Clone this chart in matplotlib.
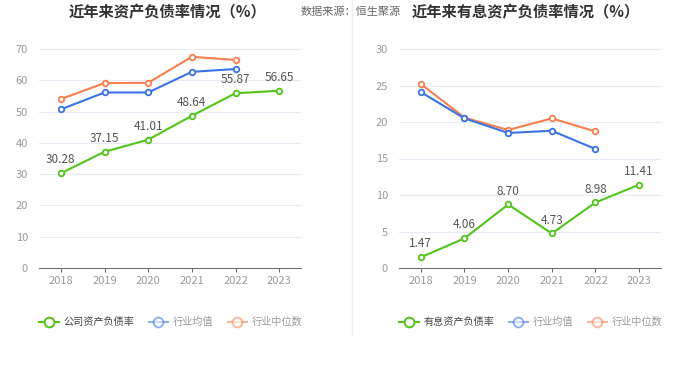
import matplotlib
matplotlib.use("Agg")
import matplotlib.pyplot as plt
from matplotlib.lines import Line2D

plt.rcParams['font.family'] = ['Noto Sans CJK SC', 'DejaVu Sans']

years = ['2018', '2019', '2020', '2021', '2022', '2023']

# Left chart: asset-liability ratio
company_ratio = [30.28, 37.15, 41.01, 48.64, 55.87, 56.65]
industry_avg = [50.7, 56.1, 56.1, 62.7, 63.6]
industry_median = [54.0, 59.1, 59.2, 67.5, 66.5]

# Right chart: interest-bearing asset-liability ratio
company_int = [1.47, 4.06, 8.70, 4.73, 8.98, 11.41]
industry_int_avg = [24.1, 20.5, 18.5, 18.8, 16.3]
industry_int_median = [25.2, 20.6, 18.9, 20.5, 18.7]

GREEN = '#52c41a'
BLUE = '#3b73e6'
ORANGE = '#fa7f4f'
GRID = '#e6ebf5'
AXIS = '#6e7079'
TICK = '#999999'

fig = plt.figure(figsize=(7, 3.79), dpi=100)

def draw(ax, comp, avg, med, ymax, ystep):
    x = range(len(years))
    ax.set_xlim(-0.5, len(years) - 0.5)
    ax.set_ylim(0, ymax)
    ax.set_yticks(range(0, ymax + 1, ystep))
    ax.set_xticks(list(x))
    ax.set_xticklabels(years)
    for s in ['top', 'right', 'left']:
        ax.spines[s].set_visible(False)
    ax.spines['bottom'].set_color(AXIS)
    ax.spines['bottom'].set_linewidth(0.8)
    ax.grid(axis='y', color=GRID, linewidth=0.8)
    ax.set_axisbelow(True)
    ax.tick_params(axis='y', length=0, labelsize=8, colors=TICK, pad=8)
    ax.tick_params(axis='x', length=3, color=AXIS, labelsize=8, labelcolor=TICK, pad=3)
    mk = dict(marker='o', markersize=4, markerfacecolor='white', markeredgewidth=1.3, linewidth=1.5)
    ax.plot(range(len(med)), med, color=ORANGE, **mk, zorder=3)
    ax.plot(range(len(avg)), avg, color=BLUE, **mk, zorder=4)
    ax.plot(range(len(comp)), comp, color=GREEN, **mk, zorder=5)
    for i, v in enumerate(comp):
        ax.annotate(f'{v:.2f}', (i, v), xytext=(0, 5), textcoords='offset points',
                    ha='center', va='bottom', fontsize=8.5, color='#555555')

ax1 = fig.add_axes([39 / 700, 111 / 379, 262 / 700, 219 / 379])
draw(ax1, company_ratio, industry_avg, industry_median, 70, 10)
ax2 = fig.add_axes([399 / 700, 111 / 379, 262 / 700, 219 / 379])
draw(ax2, company_int, industry_int_avg, industry_int_median, 30, 5)

fig.text(167 / 700, 1 - 12 / 379, '近年来资产负债率情况（%）', ha='center', va='center',
         fontsize=11, fontweight='bold', color='#333333')
fig.text(526 / 700, 1 - 12 / 379, '近年来有息资产负债率情况（%）', ha='center', va='center',
         fontsize=11, fontweight='bold', color='#333333')
fig.text(351 / 700, 1 - 12 / 379, '数据来源：恒生聚源', ha='center', va='center',
         fontsize=8, color='#666666')

fig.add_artist(Line2D([351.5 / 700, 351.5 / 700], [1 - 335 / 379, 1.0], color='#eeeeee',
                      linewidth=1, transform=fig.transFigure))

def legend(labels, cx):
    hs = []
    for c, a in [(GREEN, 1.0), (BLUE, 0.55), (ORANGE, 0.55)]:
        hs.append(Line2D([], [], color=c, alpha=a, marker='o', markersize=7,
                         markerfacecolor='white', markeredgewidth=1.4, linewidth=1.5))
    lg = fig.legend(hs, labels, loc='center', bbox_to_anchor=(cx / 700, 1 - 322 / 379),
                    ncol=3, frameon=False, fontsize=7.3, handlelength=1.9, handletextpad=0.5,
                    columnspacing=1.4, borderpad=0, borderaxespad=0)
    for t, col in zip(lg.get_texts(), ['#444444', '#999999', '#999999']):
        t.set_color(col)

legend(['公司资产负债率', '行业均值', '行业中位数'], 171)
legend(['有息资产负债率', '行业均值', '行业中位数'], 531)

fig.savefig('out.png', dpi=100, facecolor='white')
